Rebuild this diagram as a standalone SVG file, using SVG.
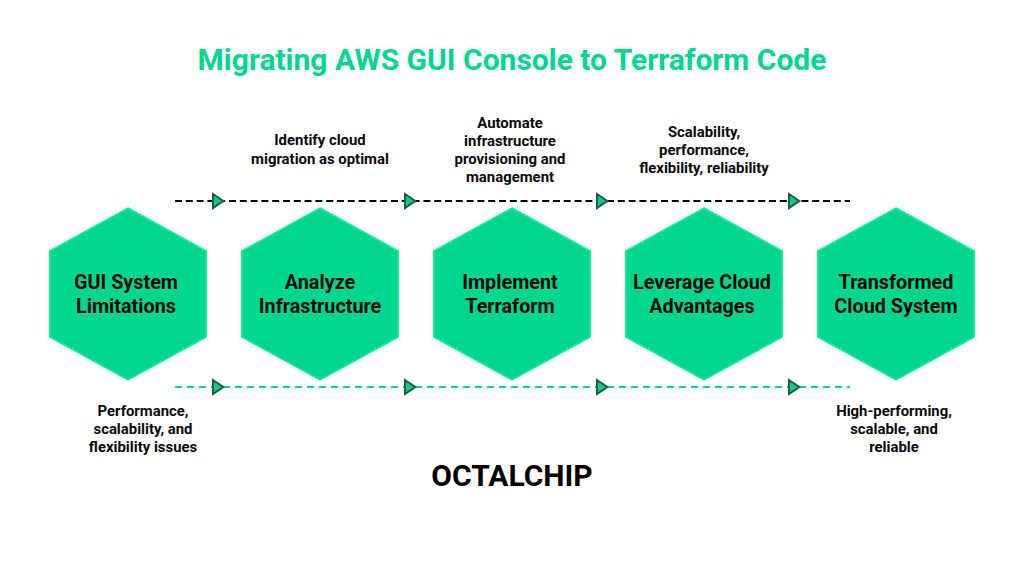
<svg xmlns="http://www.w3.org/2000/svg" width="1024" height="574" viewBox="0 0 1024 574">
<defs>
<style>
text{font-family:Roboto,"Liberation Sans",sans-serif;text-anchor:middle;fill:#0a0a0a}
.title{font-size:30px;font-weight:700;fill:#00d68f}
.brand{font-size:30px;font-weight:700;fill:#000}
.node{font-size:19.800px;font-weight:700}
.note{font-size:14.900px;font-weight:700}
.hex{fill:#00d68f;stroke:#14eaa4;stroke-width:1.500}
.dash{fill:none;stroke-width:2}
.head{fill:#12c98b;stroke:#1d5f4a;stroke-width:2;stroke-linejoin:miter}
</style>
<polygon id="h" class="hex" points="0,-86 78.300,-43 78.300,43 0,86 -78.300,43 -78.300,-43"/>
<polygon id="a" class="head" points="-5,-7 5.300,0 -5,7"/>
</defs>
<rect width="1024" height="574" fill="#fff"/>
<text class="title" x="512" y="70">Migrating AWS GUI Console to Terraform Code</text>
<g id="connectors">
<path class="dash" stroke="#000" stroke-dasharray="7 3.800" d="M175 201H850"/>
<path class="dash" stroke="#00d68f" stroke-dasharray="7 5" d="M175 387H850"/>
<use href="#a" x="218" y="201"/><use href="#a" x="410" y="201"/><use href="#a" x="602" y="201"/><use href="#a" x="794" y="201"/>
<use href="#a" x="218" y="387"/><use href="#a" x="410" y="387"/><use href="#a" x="602" y="387"/><use href="#a" x="794" y="387"/>
</g>
<g id="node1"><use href="#h" x="128" y="294"/><text class="node" x="126" y="288.500">GUI System</text><text class="node" x="126" y="312.500">Limitations</text></g>
<g id="node2"><use href="#h" x="320" y="294"/><text class="node" x="320" y="288.500">Analyze</text><text class="node" x="320" y="312.500">Infrastructure</text></g>
<g id="node3"><use href="#h" x="512" y="294"/><text class="node" x="510" y="288.500">Implement</text><text class="node" x="510" y="312.500">Terraform</text></g>
<g id="node4"><use href="#h" x="704" y="294"/><text class="node" x="702" y="288.500">Leverage Cloud</text><text class="node" x="702" y="312.500">Advantages</text></g>
<g id="node5"><use href="#h" x="896" y="294"/><text class="node" x="896" y="288.500">Transformed</text><text class="node" x="896" y="312.500">Cloud System</text></g>
<g id="notes-top">
<text class="note" x="320" y="145">Identify cloud</text><text class="note" x="320" y="164">migration as optimal</text>
<text class="note" x="510" y="128">Automate</text><text class="note" x="510" y="146">infrastructure</text><text class="note" x="510" y="164">provisioning and</text><text class="note" x="510" y="182">management</text>
<text class="note" x="704" y="137">Scalability,</text><text class="note" x="704" y="155">performance,</text><text class="note" x="704" y="173">flexibility, reliability</text>
</g>
<g id="notes-bottom">
<text class="note" x="143" y="416">Performance,</text><text class="note" x="143" y="434">scalability, and</text><text class="note" x="143" y="452">flexibility issues</text>
<text class="note" x="894" y="416">High-performing,</text><text class="note" x="894" y="434">scalable, and</text><text class="note" x="894" y="452">reliable</text>
</g>
<text class="brand" x="512" y="486">OCTALCHIP</text>
</svg>
